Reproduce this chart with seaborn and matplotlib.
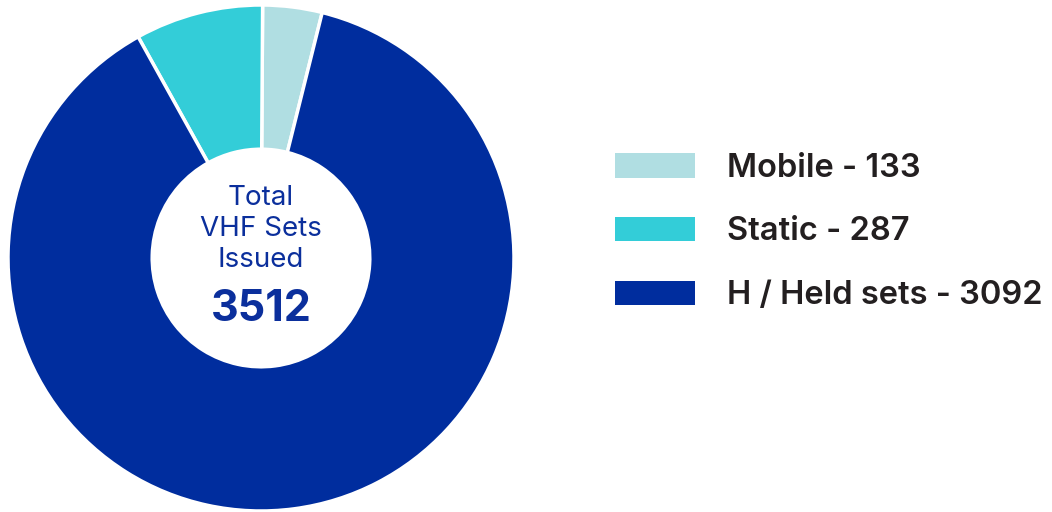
import matplotlib
matplotlib.use("Agg")
import matplotlib.pyplot as plt
from matplotlib.patches import Patch
import seaborn as sns

# data
categories = ["Mobile", "Static", "H / Held sets"]
counts = [133, 287, 3092]
total = 3512
center_label = "Total\nVHF Sets\nIssued"
colors = ["#B0DEE2", "#33CDD8", "#002D9E"]

sns.set_theme(style="white")
plt.rcParams["font.family"] = ["Inter", "DejaVu Sans"]

fig = plt.figure(figsize=(10.52, 5.12), dpi=100)
W, H = 1052, 512
cx, cy, r = 261, 254, 253
ax = fig.add_axes([(cx - r) / W, (cy - r) / H, 2 * r / W, 2 * r / H])

ax.pie(counts, colors=colors, startangle=76, counterclock=True,
       radius=1, wedgeprops=dict(width=0.57, edgecolor="white", linewidth=2.5))
ax.set_xlim(-1, 1)
ax.set_ylim(-1, 1)
ax.set_aspect("equal")
ax.axis("off")

ax.text(0, 0.115, center_label, ha="center", va="center", fontsize=20,
        color="#0B2F9C", linespacing=1.27)
ax.text(0, -0.205, str(total), ha="center", va="center", fontsize=31,
        fontweight="bold", color="#0B2F9C")

handles = [Patch(facecolor=c, edgecolor="none") for c in colors]
labels = [f"{n} - {v}" for n, v in zip(categories, counts)]
fig.legend(handles, labels, loc="center left", bbox_to_anchor=(599 / W, 1 - 232 / H),
           frameon=False, handlelength=2.45, handleheight=0.77,
           handletextpad=0.98, labelspacing=1.0, borderpad=0,
           prop={"family": ["Inter", "DejaVu Sans"], "weight": "semibold", "size": 23.5},
           labelcolor="#231F20")

fig.savefig("out.png", dpi=100)
